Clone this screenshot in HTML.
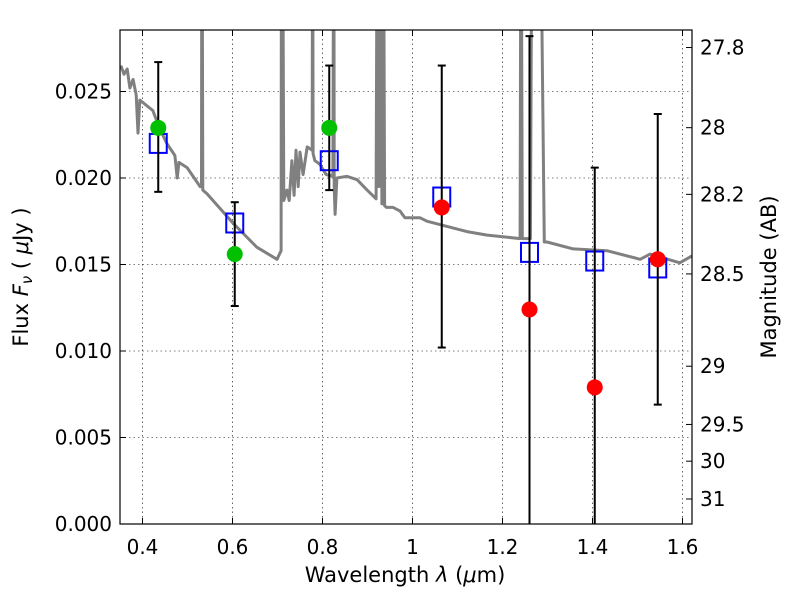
<!DOCTYPE html>
<html><head><meta charset="utf-8"><style>
body{margin:0;background:#fff;}
svg{font-family:"DejaVu Sans","Liberation Sans",sans-serif;}
</style></head><body>
<svg id="chart" width="800" height="600" xmlns="http://www.w3.org/2000/svg">
<defs><clipPath id="clip"><rect x="120" y="30" width="572" height="494"/></clipPath></defs>
<rect x="0" y="0" width="800" height="600" fill="#fff"/>
<g id="grid"></g>
<g id="spec" clip-path="url(#clip)"></g>
<g id="marks"></g>
<rect x="120" y="30" width="572" height="494" fill="none" stroke="#000" stroke-width="1.2"/>
<g id="axes"></g>
<text x="405" y="582" font-size="21" text-anchor="middle">Wavelength  <tspan font-style="italic">λ</tspan> (<tspan font-style="italic">μ</tspan>m)</text>
<text transform="translate(28,277) rotate(-90)" font-size="21" text-anchor="middle">Flux  <tspan font-style="italic">F<tspan font-size="15" dy="4">ν</tspan></tspan><tspan dy="-4">  (  </tspan><tspan font-style="italic">μ</tspan>Jy )</text>
<text transform="translate(776,277) rotate(-90)" font-size="21" text-anchor="middle">Magnitude (AB)</text>
</svg>
<script>
const NS="http://www.w3.org/2000/svg";
const specWave=[0.352,0.359,0.366,0.372,0.379,0.386,0.390,0.394,0.423,0.439,0.454,0.472,0.477,0.481,0.499,0.528,0.531,0.532,0.534,0.543,0.601,0.654,0.699,0.708,0.709,0.711,0.714,0.721,0.726,0.732,0.737,0.741,0.746,0.750,0.757,0.766,0.777,0.778,0.779,0.783,0.794,0.808,0.823,0.825,0.826,0.828,0.832,0.854,0.877,0.899,0.919,0.922,0.925,0.928,0.932,0.935,0.938,0.942,0.957,0.972,0.983,1.017,1.032,1.077,1.121,1.166,1.239,1.241,1.244,1.262,1.266,1.283,1.293,1.299,1.357,1.432,1.506,1.528,1.594,1.621];
const specFlux=[0.0265,0.0260,0.0263,0.0252,0.0257,0.0248,0.0226,0.0245,0.0239,0.0228,0.0220,0.0213,0.0200,0.0209,0.0206,0.0195,0.0195,0.040,0.0193,0.0191,0.0174,0.0160,0.0153,0.0158,0.040,0.040,0.0187,0.0193,0.0187,0.0210,0.0190,0.0216,0.0195,0.0215,0.0202,0.0218,0.0216,0.040,0.0214,0.0210,0.0208,0.0202,0.0201,0.040,0.0195,0.0179,0.0200,0.0201,0.0199,0.0193,0.0188,0.040,0.0195,0.040,0.0185,0.040,0.0184,0.0183,0.0183,0.0181,0.0177,0.0177,0.0175,0.0172,0.0169,0.0167,0.0165,0.040,0.0165,0.0165,0.040,0.040,0.0163,0.0163,0.0159,0.0158,0.0153,0.0156,0.0151,0.0155];
const bands=[0.435,0.605,0.815,1.065,1.26,1.405,1.545];
const obsFlux=[0.0229,0.0156,0.0229,0.0183,0.0124,0.0079,0.0153];
const obsColor=["#00c000","#00c000","#00c000","#ff0000","#ff0000","#ff0000","#ff0000"];
const modelFlux=[0.0220,0.0174,0.0210,0.0189,0.0157,0.0152,0.0148];
const errLow=[0.0192,0.0126,0.0193,0.0102,-0.001,-0.001,0.0069];
const errHigh=[0.0267,0.0186,0.0265,0.0265,0.0282,0.0206,0.0237];
const xTicks=[0.4,0.6,0.8,1.0,1.2,1.4,1.6];
const xTickLabels=["0.4","0.6","0.8","1","1.2","1.4","1.6"];
const yTicks=[0,0.005,0.01,0.015,0.02,0.025];
const yTickLabels=["0.000","0.005","0.010","0.015","0.020","0.025"];
const magTicks=[27.8,28,28.2,28.5,29,29.5,30,31];
const magTickLabels=["27.8","28","28.2","28.5","29","29.5","30","31"];
const X=v=>120+(v-0.35)*450;
const Y=v=>524-v*17300;
const magToFlux=m=>Math.pow(10,(23.9-m)/2.5);
function mk(tag,attrs,parent){const e=document.createElementNS(NS,tag);for(const k in attrs)e.setAttribute(k,attrs[k]);parent.appendChild(e);return e;}
const grid=document.getElementById('grid'),axes=document.getElementById('axes'),spec=document.getElementById('spec'),marks=document.getElementById('marks');
xTicks.forEach((t,i)=>{
 const g=mk('line',{x1:X(t),x2:X(t),y1:30,y2:524,stroke:'#000','stroke-width':0.6,'stroke-dasharray':'1.5,3'},grid);
 
 
 mk('line',{x1:X(t),x2:X(t),y1:524,y2:518,stroke:'#000'},axes);
 mk('line',{x1:X(t),x2:X(t),y1:30,y2:36,stroke:'#000'},axes);
 const tx=mk('text',{x:X(t),y:554,'font-size':20,'text-anchor':'middle'},axes);tx.textContent=xTickLabels[i];
 
 
});
yTicks.forEach((t,i)=>{
 const g=mk('line',{x1:120,x2:692,y1:Y(t),y2:Y(t),stroke:'#000','stroke-width':0.6,'stroke-dasharray':'1.5,3'},grid);
 
 
 mk('line',{x1:120,x2:126,y1:Y(t),y2:Y(t),stroke:'#000'},axes);
 const tx=mk('text',{x:112,y:Y(t)+7,'font-size':20,'text-anchor':'end'},axes);tx.textContent=yTickLabels[i];
 
 
});
magTicks.forEach((m,i)=>{
 const y=Y(magToFlux(m));
 mk('line',{x1:686,x2:692,y1:y,y2:y,stroke:'#000'},axes);
 const tx=mk('text',{x:700,y:y+7,'font-size':20},axes);tx.textContent=magTickLabels[i];
 
 
});
const pts=specWave.map((w,i)=>X(w).toFixed(1)+','+Y(specFlux[i]).toFixed(1)).join(' ');
const sp=mk('polyline',{points:pts,fill:'none',stroke:'#808080','stroke-width':3,'stroke-linejoin':'round'},spec);


bands.forEach((b,i)=>{
 const x=X(b);
 const sq=mk('rect',{x:x-8.5,y:Y(modelFlux[i])-9.5,width:17,height:19,fill:'none',stroke:'#0000ff','stroke-width':2},marks);
 
 
 const yl=Math.min(Y(errLow[i]),524), yh=Y(errHigh[i]);
 const eb=mk('g',{},marks);
 
 
 mk('line',{x1:x,x2:x,y1:yl,y2:yh,stroke:'#000','stroke-width':2},eb);
 mk('line',{x1:x-4,x2:x+4,y1:yh,y2:yh,stroke:'#000','stroke-width':2},eb);
 if(errLow[i]>0)mk('line',{x1:x-4,x2:x+4,y1:yl,y2:yl,stroke:'#000','stroke-width':2},eb);
 const c=mk('circle',{cx:x,cy:Y(obsFlux[i]),r:8,fill:obsColor[i]},marks);
 
 
});
</script>
</body></html>
